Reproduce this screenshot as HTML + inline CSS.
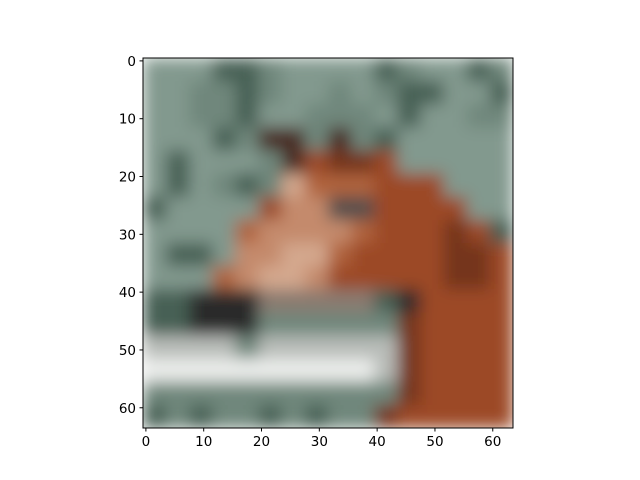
<!DOCTYPE html>
<html><head><meta charset="utf-8"><style>
body{margin:0;background:#fff}
svg{display:block;font-family:"DejaVu Sans","Liberation Sans",sans-serif}
</style></head><body>
<svg id="chart" width="640" height="480">
<defs>
<clipPath id="clip"><rect x="143" y="58" width="370" height="370"/></clipPath>
<filter id="blur" x="0" y="0" width="1" height="1"><feGaussianBlur stdDeviation="8" edgeMode="duplicate"/></filter>
</defs>
<g clip-path="url(#clip)"><g id="cells" filter="url(#blur)"></g></g>
<rect x="143" y="58" width="370" height="370" fill="none" stroke="#000" stroke-width="1"/>
<g id="ticks"></g>
</svg>
<script>
const palette={G:"#82998e",g:"#6f877c",D:"#466055",B:"#9c4a26",b:"#74341a",R:"#b0643e",T:"#c48a6c",t:"#d4a88e",K:"#4a2a20",N:"#2c2a2c",W:"#eceeec",w:"#b8bcb8",E:"#55504e",S:"#8a7a70"};
const rows=[
"GGGDDgGGGGDgGGDg",
"GGggDgGGgGgDDGGD",
"GGggDGGgggGDGGgg",
"GGGDgKKgKgDGGGGG",
"GDGGGgKBbbBGGGGG",
"GDGgDgtRRRBBBGGG",
"DGGGGBTTEEBBBBGG",
"GGGGRTTTTRBBBbBD",
"GDDGTTttRBBBBbbB",
"GGGRTttTBBBBBbbB",
"DDNNNSSSSSDNBBBB",
"DDNNNggggggbBBBB",
"wwwwgwwwwwwbBBBB",
"WWWWWWWWWWwbBBBB",
"gggggggggggbBBBB",
"DgDggDgDggbBBBBB"];
const xTicks=[0,10,20,30,40,50,60];
const yTicks=[0,10,20,30,40,50,60];
const N=64,x0=143,y0=58,S=370;
const px=v=>x0+(v+0.5)*S/N, py=v=>y0+(v+0.5)*S/N;
const NS="http://www.w3.org/2000/svg";
const cells=document.getElementById('cells');
const cs=N/rows.length;
rows.forEach((r,i)=>{[...r].forEach((c,j)=>{
 const el=document.createElementNS(NS,'rect');
 el.setAttribute('x',x0+j*cs*S/N);el.setAttribute('y',y0+i*cs*S/N);
 el.setAttribute('width',cs*S/N+0.5);el.setAttribute('height',cs*S/N+0.5);
 el.setAttribute('fill',palette[c]);
 
 
 cells.appendChild(el);});});
const tg=document.getElementById('ticks');
xTicks.forEach(v=>{
 const l=document.createElementNS(NS,'line');
 l.setAttribute('x1',px(v));l.setAttribute('x2',px(v));l.setAttribute('y1',428);l.setAttribute('y2',431.5);l.setAttribute('stroke','#000');
 
 
 tg.appendChild(l);
 const t=document.createElementNS(NS,'text');
 t.setAttribute('x',px(v));t.setAttribute('y',446);t.setAttribute('text-anchor','middle');t.setAttribute('font-size','13.5');t.textContent=v;
 
 
 tg.appendChild(t);});
yTicks.forEach(v=>{
 const l=document.createElementNS(NS,'line');
 l.setAttribute('x1',139.5);l.setAttribute('x2',143);l.setAttribute('y1',py(v));l.setAttribute('y2',py(v));l.setAttribute('stroke','#000');
 
 
 tg.appendChild(l);
 const t=document.createElementNS(NS,'text');
 t.setAttribute('x',136);t.setAttribute('y',py(v)+5);t.setAttribute('text-anchor','end');t.setAttribute('font-size','13.5');t.textContent=v;
 
 
 tg.appendChild(t);});
</script>
</body></html>
